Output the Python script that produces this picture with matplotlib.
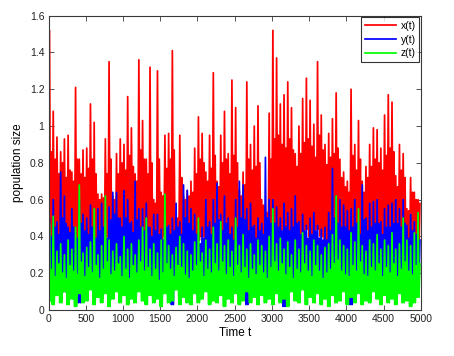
"""Population sizes x(t), y(t), z(t) over time, MATLAB-style figure."""

import numpy as np
import matplotlib
matplotlib.use("Agg")
import matplotlib.pyplot as plt
from matplotlib.ticker import FuncFormatter

# values, one slot per 50 time units:
# in each slot the curve goes low -> high -> low -> mid
SLOT = 50

x_hi = [1.52, 1.08, 0.94, 0.86, 0.93, 0.95, 0.75, 1.21, 0.82, 0.87,
        0.88, 1.12, 1.02, 0.63, 0.63, 0.93, 1.35, 0.62, 0.85, 0.93,
        0.90, 1.16, 0.99, 0.74, 1.36, 1.03, 0.82, 1.32, 0.60, 1.30,
        0.64, 0.95, 0.96, 1.41, 0.50, 0.95, 0.62, 0.65, 0.70, 0.88,
        1.05, 0.96, 0.75, 0.95, 1.29, 0.70, 0.95, 1.08, 0.85, 1.25,
        1.10, 0.65, 0.75, 1.24, 0.90, 1.00, 1.11, 0.60, 0.55, 1.07,
        1.52, 1.37, 1.12, 1.17, 1.24, 1.10, 0.85, 1.00, 1.15, 1.26,
        1.14, 1.01, 1.35, 1.06, 0.90, 0.96, 1.04, 1.18, 0.82, 0.75,
        0.70, 1.20, 0.90, 1.03, 0.70, 0.78, 0.90, 0.99, 0.98, 0.88,
        1.06, 1.17, 1.13, 0.73, 0.90, 0.85, 0.55, 0.72, 0.64, 0.60]
x_mid = [0.86, 0.82, 0.74, 0.80, 0.72, 0.76, 0.70, 0.82, 0.74, 0.72,
         0.77, 0.82, 0.74, 0.60, 0.61, 0.74, 0.82, 0.60, 0.74, 0.80,
         0.76, 0.84, 0.78, 0.70, 0.87, 0.82, 0.74, 0.80, 0.58, 0.82,
         0.62, 0.77, 0.82, 0.87, 0.50, 0.72, 0.60, 0.62, 0.64, 0.74,
         0.82, 0.80, 0.70, 0.77, 0.84, 0.67, 0.80, 0.82, 0.74, 0.84,
         0.80, 0.62, 0.68, 0.82, 0.76, 0.78, 0.80, 0.57, 0.53, 0.82,
         0.93, 0.95, 0.90, 0.88, 0.93, 0.87, 0.78, 0.85, 0.91, 0.93,
         0.89, 0.83, 0.95, 0.87, 0.79, 0.83, 0.85, 0.88, 0.72, 0.67,
         0.64, 0.84, 0.76, 0.82, 0.64, 0.72, 0.78, 0.82, 0.80, 0.76,
         0.84, 0.88, 0.86, 0.67, 0.76, 0.72, 0.54, 0.64, 0.60, 0.58]
x_lo = [0.35, 0.40, 0.38, 0.42, 0.36, 0.40, 0.33, 0.38, 0.40, 0.35,
        0.38, 0.42, 0.05, 0.30, 0.35, 0.32, 0.40, 0.30, 0.36, 0.38,
        0.35, 0.40, 0.42, 0.30, 0.38, 0.40, 0.34, 0.38, 0.28, 0.36,
        0.32, 0.40, 0.38, 0.35, 0.30, 0.36, 0.28, 0.32, 0.05, 0.34,
        0.38, 0.40, 0.33, 0.36, 0.40, 0.30, 0.38, 0.40, 0.34, 0.38,
        0.36, 0.30, 0.32, 0.40, 0.36, 0.38, 0.34, 0.28, 0.08, 0.36,
        0.42, 0.45, 0.40, 0.44, 0.42, 0.38, 0.35, 0.40, 0.42, 0.44,
        0.40, 0.38, 0.44, 0.40, 0.36, 0.38, 0.40, 0.42, 0.34, 0.32,
        0.30, 0.40, 0.36, 0.38, 0.30, 0.34, 0.36, 0.40, 0.38, 0.35,
        0.38, 0.42, 0.40, 0.32, 0.36, 0.34, 0.28, 0.30, 0.10, 0.32]

y_hi = [0.50, 0.60, 0.48, 0.75, 0.62, 0.45, 0.55, 0.42, 0.60, 0.52,
        0.50, 0.57, 0.45, 0.55, 0.58, 0.42, 0.56, 0.64, 0.64, 0.50,
        0.65, 0.60, 0.48, 0.70, 0.55, 0.55, 0.58, 0.45, 0.52, 0.52,
        0.44, 0.58, 0.46, 0.50, 0.58, 0.48, 0.68, 0.65, 0.55, 0.52,
        0.42, 0.45, 0.60, 0.48, 0.60, 0.69, 0.52, 0.62, 0.50, 0.45,
        0.60, 0.70, 0.68, 0.55, 0.58, 0.46, 0.50, 0.47, 0.83, 0.60,
        0.60, 0.56, 0.50, 0.58, 0.53, 0.55, 0.62, 0.48, 0.52, 0.46,
        0.50, 0.53, 0.46, 0.44, 0.45, 0.53, 0.77, 0.62, 0.60, 0.57,
        0.54, 0.55, 0.60, 0.48, 0.68, 0.50, 0.58, 0.59, 0.60, 0.48,
        0.55, 0.57, 0.58, 0.60, 0.55, 0.60, 0.46, 0.52, 0.48, 0.45]
y_mid = [0.40, 0.45, 0.41, 0.50, 0.47, 0.42, 0.45, 0.39, 0.47, 0.43,
         0.41, 0.45, 0.39, 0.43, 0.45, 0.39, 0.49, 0.52, 0.50, 0.45,
         0.50, 0.47, 0.42, 0.49, 0.45, 0.43, 0.45, 0.40, 0.43, 0.41,
         0.38, 0.45, 0.41, 0.43, 0.45, 0.41, 0.50, 0.47, 0.43, 0.41,
         0.36, 0.39, 0.45, 0.41, 0.47, 0.49, 0.43, 0.47, 0.41, 0.38,
         0.45, 0.50, 0.49, 0.43, 0.45, 0.39, 0.43, 0.41, 0.50, 0.47,
         0.47, 0.45, 0.43, 0.45, 0.43, 0.45, 0.47, 0.41, 0.43, 0.39,
         0.41, 0.43, 0.39, 0.38, 0.38, 0.43, 0.50, 0.47, 0.45, 0.45,
         0.43, 0.45, 0.47, 0.41, 0.49, 0.43, 0.45, 0.47, 0.47, 0.41,
         0.45, 0.45, 0.47, 0.47, 0.45, 0.47, 0.39, 0.43, 0.41, 0.38]
y_lo = [0.10, 0.14, 0.12, 0.15, 0.10, 0.13, 0.12, 0.14, 0.04, 0.12,
        0.15, 0.12, 0.14, 0.10, 0.13, 0.15, 0.12, 0.18, 0.16, 0.12,
        0.14, 0.15, 0.12, 0.16, 0.13, 0.12, 0.14, 0.10, 0.12, 0.13,
        0.12, 0.14, 0.12, 0.03, 0.14, 0.12, 0.15, 0.13, 0.10, 0.12,
        0.10, 0.12, 0.14, 0.12, 0.15, 0.14, 0.12, 0.15, 0.12, 0.10,
        0.13, 0.15, 0.14, 0.03, 0.12, 0.10, 0.12, 0.12, 0.14, 0.13,
        0.05, 0.14, 0.12, 0.02, 0.10, 0.12, 0.15, 0.12, 0.13, 0.10,
        0.12, 0.10, 0.12, 0.14, 0.10, 0.12, 0.15, 0.13, 0.12, 0.14,
        0.12, 0.03, 0.14, 0.12, 0.15, 0.12, 0.13, 0.14, 0.12, 0.10,
        0.12, 0.14, 0.13, 0.12, 0.10, 0.12, 0.06, 0.10, 0.12, 0.15]

z_hi = [0.47, 0.51, 0.32, 0.36, 0.30, 0.38, 0.33, 0.45, 0.68, 0.31,
        0.34, 0.37, 0.55, 0.30, 0.35, 0.62, 0.38, 0.32, 0.36, 0.29,
        0.40, 0.33, 0.36, 0.30, 0.38, 0.45, 0.50, 0.33, 0.36, 0.31,
        0.38, 0.63, 0.35, 0.30, 0.34, 0.40, 0.36, 0.32, 0.30, 0.37,
        0.50, 0.31, 0.38, 0.33, 0.45, 0.36, 0.48, 0.35, 0.38, 0.32,
        0.50, 0.35, 0.41, 0.33, 0.36, 0.30, 0.38, 0.35, 0.32, 0.40,
        0.55, 0.36, 0.39, 0.33, 0.37, 0.30, 0.38, 0.33, 0.42, 0.35,
        0.32, 0.38, 0.35, 0.30, 0.34, 0.36, 0.41, 0.62, 0.38, 0.35,
        0.33, 0.42, 0.37, 0.55, 0.35, 0.32, 0.38, 0.36, 0.41, 0.33,
        0.38, 0.35, 0.42, 0.33, 0.36, 0.50, 0.38, 0.35, 0.42, 0.53]
z_mid = [0.22, 0.18, 0.25, 0.20, 0.17, 0.24, 0.21, 0.19, 0.26, 0.18,
         0.23, 0.20, 0.24, 0.17, 0.22, 0.26, 0.19, 0.21, 0.25, 0.18,
         0.22, 0.17, 0.24, 0.20, 0.26, 0.21, 0.23, 0.18, 0.22, 0.16,
         0.20, 0.25, 0.22, 0.18, 0.24, 0.23, 0.19, 0.17, 0.21, 0.24,
         0.26, 0.18, 0.22, 0.20, 0.25, 0.21, 0.26, 0.19, 0.23, 0.18,
         0.24, 0.20, 0.23, 0.17, 0.22, 0.19, 0.24, 0.20, 0.17, 0.23,
         0.26, 0.21, 0.25, 0.19, 0.23, 0.17, 0.22, 0.20, 0.25, 0.21,
         0.18, 0.24, 0.21, 0.17, 0.20, 0.22, 0.25, 0.27, 0.21, 0.19,
         0.18, 0.24, 0.21, 0.26, 0.19, 0.18, 0.23, 0.21, 0.25, 0.18,
         0.23, 0.20, 0.25, 0.18, 0.22, 0.26, 0.21, 0.19, 0.24, 0.25]
z_lo = [0.05, 0.03, 0.08, 0.04, 0.10, 0.03, 0.06, 0.02, 0.09, 0.04,
        0.05, 0.11, 0.03, 0.07, 0.04, 0.09, 0.02, 0.06, 0.10, 0.04,
        0.08, 0.03, 0.06, 0.04, 0.10, 0.05, 0.03, 0.08, 0.04, 0.06,
        0.02, 0.09, 0.04, 0.05, 0.11, 0.03, 0.07, 0.04, 0.03, 0.09,
        0.04, 0.06, 0.10, 0.03, 0.05, 0.04, 0.08, 0.02, 0.06, 0.04,
        0.09, 0.03, 0.05, 0.10, 0.04, 0.07, 0.03, 0.08, 0.04, 0.06,
        0.03, 0.09, 0.04, 0.06, 0.02, 0.10, 0.05, 0.04, 0.11, 0.03,
        0.07, 0.04, 0.09, 0.03, 0.06, 0.02, 0.08, 0.04, 0.05, 0.10,
        0.03, 0.07, 0.04, 0.09, 0.03, 0.05, 0.04, 0.10, 0.06, 0.03,
        0.08, 0.04, 0.06, 0.03, 0.09, 0.04, 0.05, 0.02, 0.04, 0.07]

labels = ["x(t)", "y(t)", "z(t)"]
colors = ["#ff0000", "#0000ff", "#00ff00"]


def trace(hi, mid, lo):
    """Interleave the slot values into one series: lo, hi, lo, mid per slot."""
    vals = np.column_stack([lo, hi, lo, mid]).ravel()
    t = np.arange(vals.size) * (SLOT / 4.0)
    return t, vals


plt.rcParams["font.family"] = ["Liberation Sans", "DejaVu Sans"]

fig = plt.figure(figsize=(4.54, 3.56), dpi=100)
ax = fig.add_axes([0.107, 0.129, 0.820, 0.827])

series = [(x_hi, x_mid, x_lo), (y_hi, y_mid, y_lo), (z_hi, z_mid, z_lo)]
for (hi, mid, lo), lab, col in zip(series, labels, colors):
    t, v = trace(hi, mid, lo)
    ax.plot(t, v, color=col, linewidth=1.25, label=lab)

ax.set_xlim(0, 5000)
ax.set_ylim(0, 1.6)
ax.set_xticks(np.arange(0, 5001, 500))
ax.set_yticks(np.arange(0, 1.61, 0.2))
ax.yaxis.set_major_formatter(FuncFormatter(lambda v, _: f"{v:g}"))

edge = "#3a3a3a"
for sp in ax.spines.values():
    sp.set_color(edge)
    sp.set_linewidth(0.8)
ax.tick_params(direction="in", top=True, right=True, length=3.5, width=0.6,
               color=edge, labelsize=7.5, labelcolor="#222222", pad=3)

ax.set_xlabel("Time t", fontsize=8.5, labelpad=2)
ax.set_ylabel("population size", fontsize=8.5, labelpad=4)

leg = ax.legend(loc="upper right", fontsize=7.5, frameon=True, fancybox=False,
                borderaxespad=0.15, handlelength=3.0, handletextpad=0.4,
                borderpad=0.35, labelspacing=0.35)
leg.get_frame().set_edgecolor("black")
leg.get_frame().set_linewidth(0.8)

fig.savefig("out.png", dpi=100)
